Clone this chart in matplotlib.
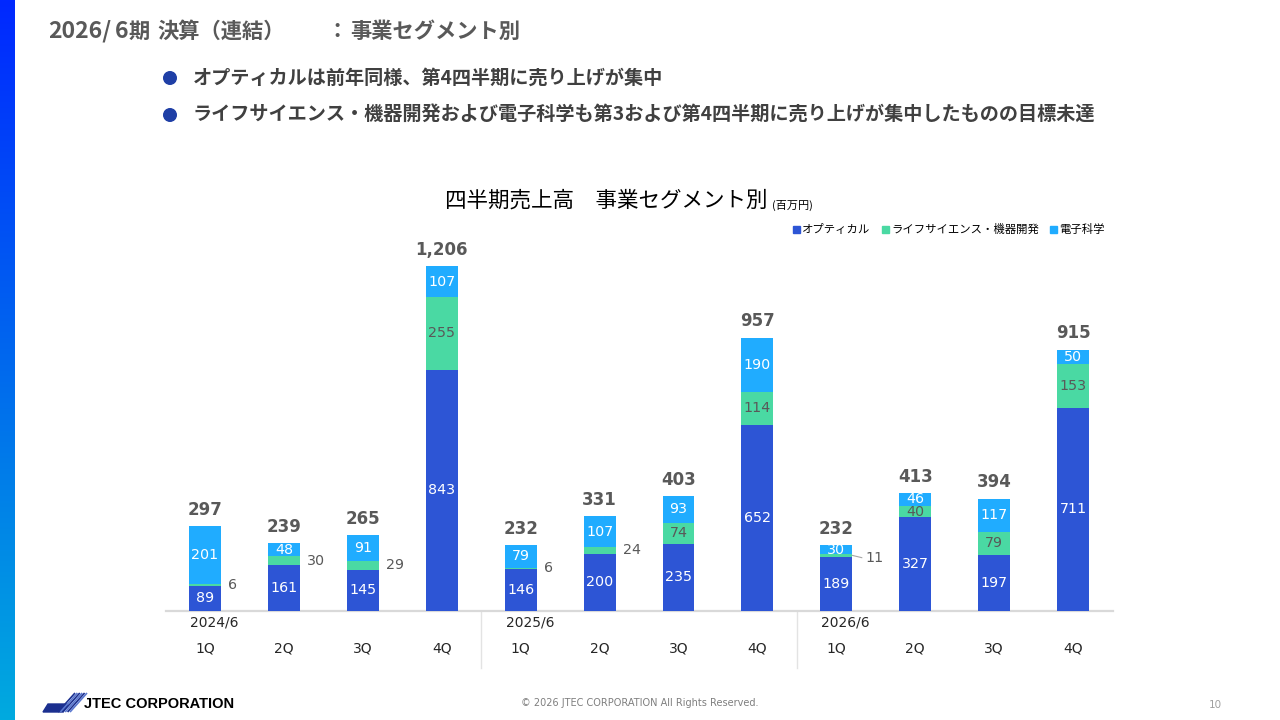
import numpy as np
import matplotlib
matplotlib.use('Agg')
import matplotlib.pyplot as plt
from matplotlib.patches import Polygon, Circle
from matplotlib.colors import LinearSegmentedColormap

plt.rcParams['font.family'] = ['DejaVu Sans', 'Noto Sans CJK JP']
JP = ['Noto Sans CJK JP', 'DejaVu Sans']

# ---------------- data ----------------
years = ['2024/6', '2025/6', '2026/6']
quarters = ['1Q', '2Q', '3Q', '4Q'] * 3
optical = [89, 161, 145, 843, 146, 200, 235, 652, 189, 327, 197, 711]
life = [6, 30, 29, 255, 6, 24, 74, 114, 11, 40, 79, 153]
elec = [201, 48, 91, 107, 79, 107, 93, 190, 30, 46, 117, 50]
totals = [297, 239, 265, 1206, 232, 331, 403, 957, 232, 413, 394, 915]
series_names = ['オプティカル', 'ライフサイエンス・機器開発', '電子科学']

# page title, split into runs to mimic the original spacing
title_parts = ['2026/', '6', '期', '決算（連結）', '：', '事業セグメント別']
title_x = [48, 115, 129, 157, 326, 350]
title_fs = [16.6, 16.6, 15.3, 15.3, 15.3, 15.3]
bullets = ['オプティカルは前年同様、第4四半期に売り上げが集中',
           'ライフサイエンス・機器開発および電子科学も第3および第4四半期に売り上げが集中したものの目標未達']
chart_title = '四半期売上高　事業セグメント別'
unit_label = '(百万円)'
footer = '© 2026 JTEC CORPORATION All Rights Reserved.'
page_no = '10'

C_OPT = '#2D55D5'
C_LIFE = '#4AD9A3'
C_ELEC = '#20ACFF'
colors = [C_OPT, C_LIFE, C_ELEC]
label_colors = ['white', '#595959', 'white']

W, H = 1280, 720
fig = plt.figure(figsize=(12.8, 7.2), dpi=100)
fig.patch.set_facecolor('white')

# overlay axes in pixel coordinates for page decorations
bg = fig.add_axes([0, 0, 1, 1], zorder=0)
bg.axis('off')

# left gradient bar
cmap = LinearSegmentedColormap.from_list('g', ['#0028FF', '#0068EE', '#00AADF'])
grad = np.linspace(0, 1, 256).reshape(-1, 1)
bg.imshow(grad, cmap=cmap, extent=[0, 15, H, 0], aspect='auto', zorder=1)
bg.set_xlim(0, W)
bg.set_ylim(H, 0)

# page title
for t, tx, fs in zip(title_parts, title_x, title_fs):
    bg.text(tx, 38, t, family=JP, fontsize=fs, fontweight='bold',
            color='#595959', va='baseline', ha='left')

# bullets
for t, y in zip(bullets, [78, 115]):
    bg.add_patch(Circle((170, y), 6.3, color='#1F3FA6', zorder=2))
    bg.text(193, y, t, family=JP, fontsize=13.8, fontweight='bold',
            color='#404040', va='center', ha='left')

# chart title
bg.text(445, 201, chart_title, family=JP, fontsize=15.5, color='black',
        va='center', ha='left')
bg.text(772, 205, unit_label, family=JP, fontsize=8, color='black',
        va='center', ha='left')

# legend
leg_x = [793, 882, 1050]
for name, c, x in zip(series_names, colors, leg_x):
    bg.add_patch(plt.Rectangle((x, 226), 7, 7, color=c, zorder=2))
    bg.text(x + 9, 229.5, name, family=JP, fontsize=8.2, color='black',
            va='center', ha='left')

# footer
bg.text(640, 703, footer, fontsize=7, color='#7F7F7F', va='center', ha='center')
bg.text(1215, 705, page_no, fontsize=7.5, color='#A0A0A0', va='center', ha='center')

# logo
bg.add_patch(Polygon([(43, 712), (63, 712), (68, 704), (48, 704)],
                     closed=True, color='#1B2F8F', zorder=2))
for k in range(6):
    x0 = 58 + 2.4 * k
    bg.plot([x0, x0 + 17], [712, 693], color='#1B2F8F' if k % 2 == 0 else '#5A78D0',
            lw=1.2, solid_capstyle='butt', zorder=2)
bg.text(84, 704, 'JTEC CORPORATION', family=['Liberation Sans', 'DejaVu Sans'],
        fontsize=10.5, fontweight='bold', color='black', va='center', ha='left')

# ---------------- chart ----------------
left_px, right_px, base_px, top_px = 166, 1113, 611, 250
scale = 0.286  # px per unit
ax = fig.add_axes([left_px / W, (H - base_px) / H, (right_px - left_px) / W,
                   (base_px - top_px) / H], zorder=2)
ax.patch.set_alpha(0)
x = np.arange(len(optical))
ax.set_xlim(-0.494, 11.506)
ax.set_ylim(0, (base_px - top_px) / scale)

bw = 0.405
series = [optical, life, elec]
bottom = np.zeros(len(x))
for s, c in zip(series, colors):
    ax.bar(x, s, bw, bottom=bottom, color=c, linewidth=0, zorder=3)
    bottom += np.array(s)

# segment labels
LFS = 10.3
bottom = np.zeros(len(x))
for si, (s, lc) in enumerate(zip(series, label_colors)):
    for i, v in enumerate(s):
        yc = bottom[i] + v / 2
        if si == 1 and v < 35:
            xr = i + bw / 2
            if i == 8:
                ax.plot([xr, xr + 0.12], [yc, yc - 8], color='#A6A6A6', lw=0.8,
                        zorder=4, clip_on=False)
                ax.text(xr + 0.17, yc - 10, str(v), fontsize=LFS, color='#595959',
                        va='center', ha='left', zorder=5)
            else:
                ax.text(xr + 0.09, yc, str(v), fontsize=LFS, color='#595959',
                        va='center', ha='left', zorder=5)
        else:
            dy = 0
            if i == 9 and si == 1:
                dy = -2
            ax.text(i, yc + dy, str(v), fontsize=LFS, color=lc, va='center',
                    ha='center', zorder=5)
    bottom += np.array(s)

# totals
for i, t in enumerate(totals):
    ax.annotate(f'{t:,}', (i, bottom[i]), xytext=(0, 8), textcoords='offset points',
                ha='center', va='baseline', fontsize=12, fontweight='bold',
                color='#595959', zorder=5)

for sp in ['top', 'right', 'left']:
    ax.spines[sp].set_visible(False)
ax.spines['bottom'].set_color('#D9D9D9')
ax.spines['bottom'].set_linewidth(1.6)
ax.set_xticks([])
ax.set_yticks([])

xt = ax.get_xaxis_transform()
ph = base_px - top_px
for sx in [3.5, 7.5]:
    ax.plot([sx, sx], [0, -57 / ph], transform=xt, color='#E3E3E3', lw=1,
            clip_on=False)
for i, q in enumerate(quarters):
    ax.text(i, -(649 - base_px) / ph, q, transform=xt, fontsize=10,
            color='#262626', ha='center', va='center')
for k, yl in enumerate(years):
    ax.text(4 * k + 0.12, -(622 - base_px) / ph, yl, transform=xt, fontsize=10,
            color='#262626', ha='center', va='center')

fig.savefig('out.png', dpi=100, facecolor='white')
